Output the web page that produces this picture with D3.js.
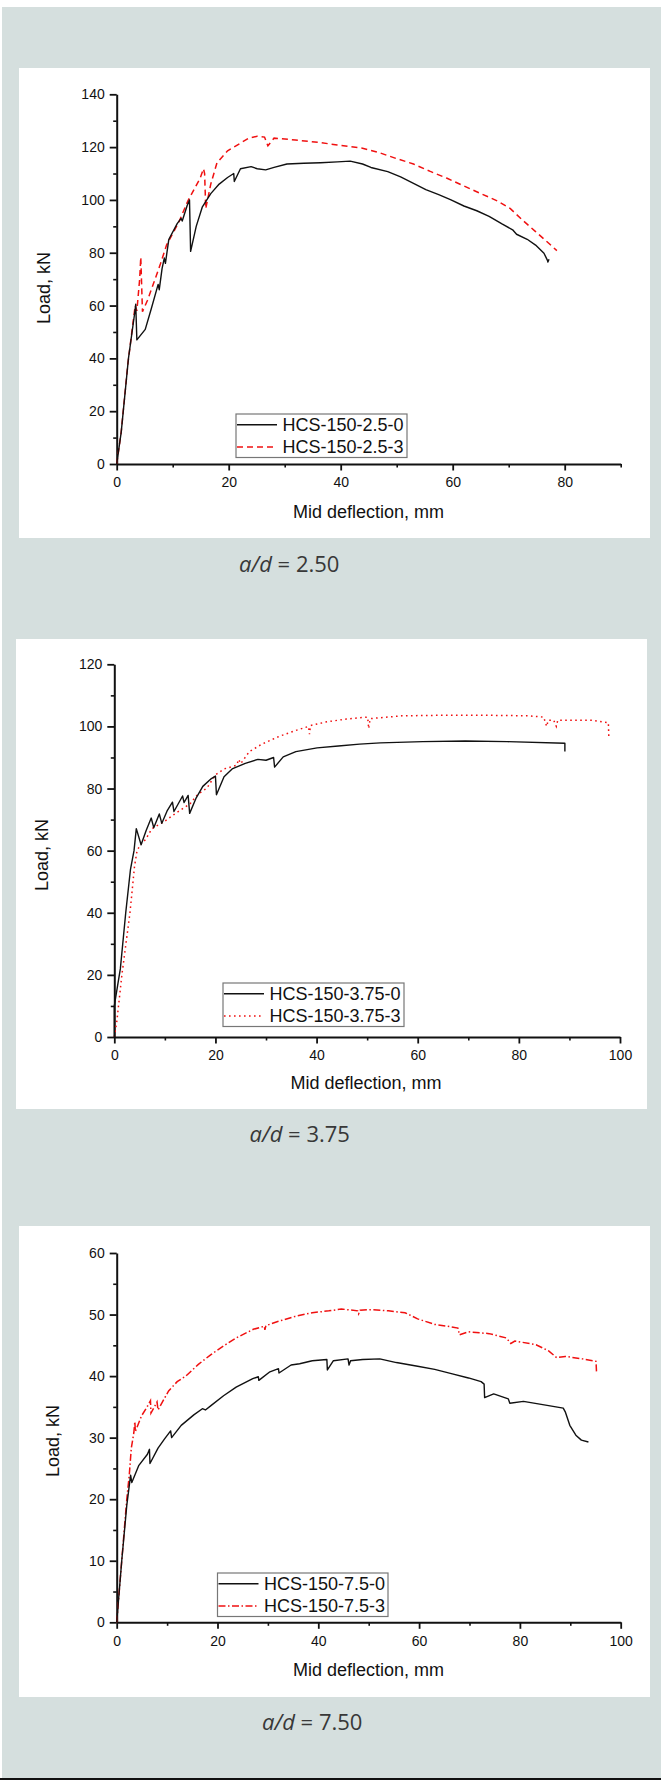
<!DOCTYPE html>
<html>
<head>
<meta charset="utf-8">
<script src="https://cdn.jsdelivr.net/npm/d3@7"></script>
<style>
body { margin: 0; background: #fff; }
svg { display: block; }
.axis text { font-family: "Liberation Sans", Arial, sans-serif; font-size: 14px; fill: #111; }
.axis path, .axis line { stroke: #111; }
.lab { font-family: "Liberation Sans", Arial, sans-serif; font-size: 18px; fill: #111; }
.caption { font-family: "Open Sans", Lato, sans-serif; font-size: 22px; fill: #383838; font-weight: 400; }
</style>
</head>
<body>
<svg id="chart"></svg>
<script>
var pageWidth = 661;
var pageHeight = 1780;

// tick values
var xTicks1 = [0, 20, 40, 60, 80];
var xMinor1 = [10, 30, 50, 70, 90];
var yTicks1 = [0, 20, 40, 60, 80, 100, 120, 140];
var yMinor1 = [10, 30, 50, 70, 90, 110, 130];
var xTicks2 = [0, 20, 40, 60, 80, 100];
var xMinor2 = [10, 30, 50, 70, 90];
var yTicks2 = [0, 20, 40, 60, 80, 100, 120];
var yMinor2 = [10, 30, 50, 70, 90, 110];
var yTicks3 = [0, 10, 20, 30, 40, 50, 60];
var yMinor3 = [5, 15, 25, 35, 45, 55];

var names1 = ["HCS-150-2.5-0", "HCS-150-2.5-3"];
var names2 = ["HCS-150-3.75-0", "HCS-150-3.75-3"];
var names3 = ["HCS-150-7.5-0", "HCS-150-7.5-3"];
var ratios = ["2.50", "3.75", "7.50"];

// [mid deflection mm, load kN]
var hcs25_0 = [[0,0],[0.8,12],[2.1,40],[3.2,57],[3.4,60.5],[3.6,47],[5.1,51],[6.2,59],[7.4,68],[7.6,66],[8.1,74],[8.5,78],[8.7,76],[9.3,85],[10.8,91],[11.5,93],[11.7,92],[12.6,98],[13.0,100],[13.2,80.5],[14.2,90],[15.3,97.4],[16.8,102.4],[18.3,106],[19.8,108.5],[20.9,110],[21.0,107],[22.1,111.8],[24,112.6],[25.1,111.8],[26.6,111.4],[28.1,112.3],[30.4,113.6],[33.4,113.9],[36.4,114.1],[39.4,114.4],[41.7,114.7],[43.9,113.6],[45.4,112.3],[48.4,110.7],[50.7,108.7],[53,106.3],[55.2,103.9],[57.5,102],[59.7,100],[62,97.7],[64.3,95.9],[66.5,93.8],[68.8,90.9],[70.7,88.7],[71.4,87],[73.3,85.1],[74.8,82.9],[76.3,79.8],[76.9,77.2],[77,76.5],[77.2,77.5]];
var hcs25_3 = [[0,0],[0.8,12],[2,38],[3,55],[3.3,60],[3.6,58],[4.1,70],[4.3,78.3],[4.6,57.7],[5.5,62],[6.6,68.5],[7.8,75.7],[8.9,82.9],[10,87.3],[11.1,91.6],[12.7,99.6],[13.8,103.9],[14.9,108.2],[15.5,111.8],[15.7,110],[15.9,96.7],[16.8,106],[17.9,114],[19.8,118.6],[21.3,120.5],[23.6,123.4],[25.1,124.1],[26.4,123.8],[27,120.5],[28.1,123.4],[31.9,122.7],[36.4,121.7],[39.4,120.8],[43.9,119.6],[46.9,117.9],[49.9,115.7],[53,113.6],[56,110.8],[59,108.2],[62,105.3],[65,102.4],[68,99.6],[70.3,96.7],[72.5,92.3],[74.8,88],[77.1,83.7],[78.6,80.8]];
var hcs375_0 = [[0,0],[0,10],[1.2,22],[2.26,40],[3.2,54],[3.9,60],[4.35,67.1],[5.3,61.9],[6.3,66.5],[7.3,70.5],[7.8,67.4],[8.9,71.8],[9.4,68.8],[10.5,73],[11.5,75.6],[11.8,72.6],[13.5,77.6],[13.8,75.5],[14.6,77.8],[14.9,72],[16.2,77],[17.5,80.7],[19.2,83.2],[20,84],[20.2,78],[21.7,83.8],[23.3,86.3],[25.9,88.1],[28.4,89.4],[30,89.1],[31.5,90],[31.7,86.9],[33.4,90.2],[35.9,91.9],[40.1,93.1],[44.3,93.7],[48.5,94.3],[52.6,94.7],[61,95.1],[69.4,95.3],[77.7,95.1],[89.1,94.6],[89.1,91.9]];
var hcs375_3 = [[0,0],[0.5,5],[1.5,20],[3.1,40],[4,55],[4.5,60],[5.2,62],[6.2,63.6],[7.4,67],[8.7,68.3],[10,69.5],[11.6,71.4],[13.3,73.3],[15,75.1],[16.2,77.6],[17.1,78.8],[18.3,80.1],[20,84.4],[21.7,86.3],[24.2,87.5],[24.6,89.4],[25,88],[26.7,91.9],[29.2,94.3],[32.6,96.8],[35.9,98.7],[38.4,100],[38.6,97.5],[38.8,100.3],[41.8,101.4],[45.9,102.4],[50.1,103],[50.3,99.3],[50.6,102.5],[52.6,102.8],[56.8,103.4],[65.2,103.6],[73.6,103.6],[81.9,103.4],[84.9,103],[85.5,100],[85.8,102],[86.9,102],[87.4,100],[87.7,102],[89.5,102],[94.5,102],[97.7,101.2],[97.8,96.1]];
var hcs75_0 = [[0,0],[1,10],[2,19],[2.76,23.9],[3.0,22.7],[4.4,25.5],[6.1,27.3],[6.5,28.1],[6.6,25.8],[8.2,28.3],[9.5,29.8],[10.7,31.1],[10.9,30],[12.8,32],[15.3,33.7],[17,34.7],[17.6,34.5],[18.7,35.2],[21.2,36.8],[23.7,38.2],[27,39.6],[28.1,39.9],[28.2,39.3],[30.4,40.7],[32.1,41.2],[32.2,40.5],[34.6,41.8],[36.3,42],[38.8,42.5],[41.7,42.7],[41.8,41],[43,42.5],[45.9,42.8],[46.1,41.8],[46.4,42.5],[48.8,42.7],[52.2,42.8],[55.5,42.2],[59.7,41.6],[63.1,41.1],[66.4,40.4],[69.8,39.7],[72.3,39.1],[72.9,38.7],[73.0,36.5],[74.8,37.1],[77.7,36.3],[78.0,35.6],[80.7,35.9],[85.7,35.2],[88.6,34.8],[89,34.2],[89.9,32],[91.1,30.4],[92.2,29.6],[93.6,29.3]];
var hcs75_3 = [[0,0],[1,10],[2,20],[2.5,24],[2.9,28.3],[3.4,30.8],[3.6,32.6],[3.7,31],[4.9,33.5],[6.1,35.1],[6.7,36],[6.8,34],[8,35.8],[8.2,34.5],[9,35.7],[10.3,37.6],[12,39.1],[13.7,40],[16.2,41.9],[18.7,43.5],[21.2,44.9],[23.7,46.2],[27.1,47.6],[29.3,48.1],[29.4,47.5],[29.6,48.2],[32.1,48.9],[35.4,49.7],[38.8,50.3],[42.1,50.6],[44.6,50.9],[47.8,50.6],[48,50.1],[48.3,50.7],[50.5,50.8],[53.9,50.6],[57.2,50.3],[59.7,49.3],[63.1,48.4],[65.6,48.1],[67.7,47.8],[68,46.7],[69.8,47.2],[73.9,46.9],[77.3,46.2],[78.2,45.3],[79,45.7],[83.2,45.1],[85.7,44.1],[87.3,43],[89,43.2],[92.4,42.8],[95.1,42.4],[95.2,40.7]];

var black = "#111";
var red = "#f01010";

var panels = [
	{ box: [19, 68, 650, 538], xr: [116.7, 620.7], yr: [464, 94.3], xMax: 90, yMax: 140,
	  xT: xTicks1, xM: xMinor1, yT: yTicks1, yM: yMinor1,
	  data: [hcs25_0, hcs25_3], names: names1, dash: "6,4",
	  legend: [236, 414, 171, 43.5], ylab: [44, 288], xlab: [368.6, 511.5], cap: [239, 572] },
	{ box: [16, 639, 647, 1109], xr: [114.3, 620], yr: [1037, 664.3], xMax: 100, yMax: 120,
	  xT: xTicks2, xM: xMinor2, yT: yTicks2, yM: yMinor2,
	  data: [hcs375_0, hcs375_3], names: names2, dash: "1.6,3.4",
	  legend: [223, 983, 181, 43.5], ylab: [41.5, 855], xlab: [366, 1082.5], cap: [249.5, 1141.5] },
	{ box: [19, 1226, 650, 1697], xr: [116.7, 620.7], yr: [1622.3, 1253], xMax: 100, yMax: 60,
	  xT: xTicks2, xM: xMinor2, yT: yTicks3, yM: yMinor3,
	  data: [hcs75_0, hcs75_3], names: names3, dash: "7,2.5,1.5,2.5",
	  legend: [217.5, 1573, 170.5, 43.5], ylab: [52.7, 1441], xlab: [368.6, 1669.5], cap: [262, 1729.5] }
];

var svg = d3.select("#chart")
	.attr("width", pageWidth)
	.attr("height", pageHeight);

svg.append("rect").attr("width", pageWidth).attr("height", pageHeight).attr("fill", "#fff");
svg.append("rect").attr("x", 2).attr("y", 7)
	.attr("width", pageWidth - 2).attr("height", pageHeight - 9)
	.attr("fill", "#d5dfde");
svg.append("rect").attr("x", 0).attr("y", pageHeight - 2)
	.attr("width", pageWidth).attr("height", 2).attr("fill", "#111");

panels.forEach(function(p, i) { drawPanel(p, i); });

function drawPanel(p, i) {
	var g = svg.append("g");
	g.append("rect")
	.attr("x", p.box[0]).attr("y", p.box[1])
	.attr("width", p.box[2] - p.box[0]).attr("height", p.box[3] - p.box[1])
	.attr("fill", "#fff");

	var x = d3.scaleLinear().domain([0, p.xMax]).range(p.xr);
	var y = d3.scaleLinear().domain([0, p.yMax]).range(p.yr);

	// minor ticks first, then major axis on top
	g.append("g").attr("class", "axis")
	.attr("transform", "translate(0," + p.yr[0] + ")")
	.call(d3.axisBottom(x).tickValues(p.xM).tickFormat("").tickSize(3.5).tickSizeOuter(0))
	.call(function(a) { a.select(".domain").remove(); a.selectAll("line").attr("stroke-width", 1.6); });
	g.append("g").attr("class", "axis")
	.attr("transform", "translate(" + p.xr[0] + ",0)")
	.call(d3.axisLeft(y).tickValues(p.yM).tickFormat("").tickSize(3.5).tickSizeOuter(0))
	.call(function(a) { a.select(".domain").remove(); a.selectAll("line").attr("stroke-width", 1.6); });

	g.append("g").attr("class", "axis")
	.attr("transform", "translate(0," + p.yr[0] + ")")
	.call(d3.axisBottom(x).tickValues(p.xT).tickSize(6.5).tickPadding(7).tickSizeOuter(0))
	.call(function(a) {
		a.attr("font-family", null).attr("font-size", null);
		a.select(".domain").attr("stroke-width", 2);
		a.selectAll("line").attr("stroke-width", 1.8);
	});
	g.append("g").attr("class", "axis")
	.attr("transform", "translate(" + p.xr[0] + ",0)")
	.call(d3.axisLeft(y).tickValues(p.yT).tickSize(7).tickPadding(5).tickSizeOuter(0))
	.call(function(a) {
		a.attr("font-family", null).attr("font-size", null);
		a.select(".domain").attr("stroke-width", 2);
		a.selectAll("line").attr("stroke-width", 1.8);
	});

	var line = d3.line()
	.x(function(d) { return x(d[0]); })
	.y(function(d) { return y(d[1]); });

	g.append("path").datum(p.data[1])
	.attr("d", line).attr("fill", "none")
	.attr("stroke", red).attr("stroke-width", 1.5)
	.attr("stroke-dasharray", p.dash);
	g.append("path").datum(p.data[0])
	.attr("d", line).attr("fill", "none")
	.attr("stroke", black).attr("stroke-width", 1.4)
	.attr("stroke-linejoin", "round");

	// axis titles
	g.append("text").attr("class", "lab")
	.attr("transform", "translate(" + p.ylab[0] + "," + p.ylab[1] + ") rotate(-90)")
	.attr("text-anchor", "middle").attr("dy", "0.35em")
	.text("Load, kN");
	g.append("text").attr("class", "lab")
	.attr("x", p.xlab[0]).attr("y", p.xlab[1])
	.attr("text-anchor", "middle").attr("dy", "0.35em")
	.text("Mid deflection, mm");

	// legend
	var L = p.legend;
	var lg = g.append("g").attr("transform", "translate(" + L[0] + "," + L[1] + ")");
	lg.append("rect").attr("width", L[2]).attr("height", L[3])
	.attr("fill", "#fff").attr("stroke", "#777").attr("stroke-width", 1.2);
	[0, 1].forEach(function(k) {
		var ly = 10.8 + k * 22.3;
		lg.append("line").attr("x1", 1).attr("x2", 41).attr("y1", ly).attr("y2", ly)
		.attr("stroke", k ? red : black).attr("stroke-width", 1.5)
		.attr("stroke-dasharray", k ? p.dash : null);
		lg.append("text").attr("class", "lab")
		.attr("x", 46.5).attr("y", ly).attr("dy", "0.35em")
		.text(p.names[k]);
	});

	// caption
	var cap = g.append("text").attr("class", "caption")
	.attr("x", p.cap[0]).attr("y", p.cap[1]);
	cap.append("tspan").attr("font-style", "italic").text("a/d");
	cap.append("tspan").text(" = " + ratios[i]);
}
</script>
</body>
</html>
